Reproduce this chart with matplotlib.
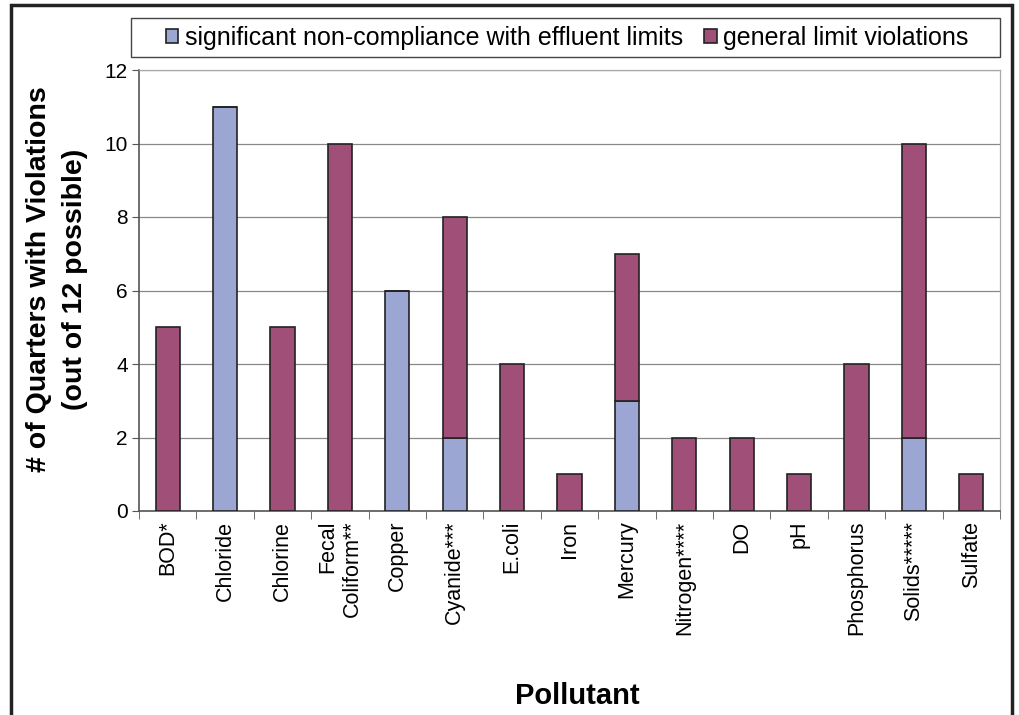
import numpy as np
import matplotlib.pyplot as plt
from matplotlib.patches import Rectangle

plt.rcParams['font.family'] = ['Liberation Sans', 'DejaVu Sans']

# Data
pollutants = ["BOD*", "Chloride", "Chlorine", "Fecal\nColiform**", "Copper", "Cyanide***",
              "E.coli", "Iron", "Mercury", "Nitrogen****", "DO", "pH", "Phosphorus",
              "Solids*****", "Sulfate"]
significant = [0, 11, 0, 0, 6, 2, 0, 0, 3, 0, 0, 0, 0, 2, 0]
general = [5, 0, 5, 10, 0, 6, 4, 1, 4, 2, 2, 1, 4, 8, 1]

blue = "#9BA6D3"
purple = "#A05078"

fig = plt.figure(figsize=(10.19, 7.15), dpi=100)
ax = fig.add_axes([139 / 1019, 1 - 511 / 715, (1000 - 139) / 1019, (511 - 70) / 715])

x = np.arange(len(pollutants))
ax.bar(x, significant, width=0.42, color=blue, edgecolor="#222222", linewidth=1.2,
       label="significant non-compliance with effluent limits", zorder=3)
ax.bar(x, general, width=0.42, bottom=significant, color=purple, edgecolor="#222222",
       linewidth=1.2, label="general limit violations", zorder=3)

ax.set_xlim(-0.5, len(pollutants) - 0.5)
ax.set_ylim(0, 12)
ax.set_yticks(range(0, 13, 2))
ax.yaxis.grid(True, color="#888888", linewidth=0.9, zorder=0)
ax.tick_params(axis="y", labelsize=15, length=5, color="#555555", pad=3)

ax.set_xticks(x)
ax.set_xticklabels(pollutants, rotation=90, fontsize=15.5, multialignment="right")
ax.tick_params(axis="x", length=0, pad=7)
ax.set_xticks(np.arange(len(pollutants) + 1) - 0.5, minor=True)
ax.tick_params(axis="x", which="minor", length=6, color="#555555")

for s in ["left", "bottom"]:
    ax.spines[s].set_color("#555555")
    ax.spines[s].set_linewidth(1.2)
for s in ["top", "right"]:
    ax.spines[s].set_color("#AAAAAA")
    ax.spines[s].set_linewidth(0.9)

fig.text(57 / 1019, 1 - 279 / 715, "# of Quarters with Violations\n(out of 12 possible)",
         fontsize=20.5, fontweight="bold", rotation=90, ha="center", va="center",
         linespacing=1.45)
fig.text(577 / 1019, 1 - 696 / 715, "Pollutant", fontsize=21,
         fontweight="bold", ha="center", va="center")

leg = fig.legend(loc="center", bbox_to_anchor=(567 / 1019, 1 - 38 / 715),
                 ncol=2, fontsize=18, frameon=False, handlelength=0.5,
                 handleheight=0.5, handletextpad=0.25, columnspacing=0.85,
                 borderpad=0.35, borderaxespad=0)
# legend box is wider than its entries in the original
fig.patches.append(Rectangle((131 / 1019, 1 - 57 / 715), (1000 - 131) / 1019, 39 / 715,
                             transform=fig.transFigure, fill=False, edgecolor="#444444",
                             linewidth=1.0))

# outer chart border (bottom edge is cut off in the original)
fig.patches.append(Rectangle((11 / 1019, -0.05), (1012 - 11) / 1019, 0.993 + 0.05,
                             transform=fig.transFigure, fill=False, edgecolor="#222222",
                             linewidth=2.5))

fig.savefig("out.png", dpi=100)
